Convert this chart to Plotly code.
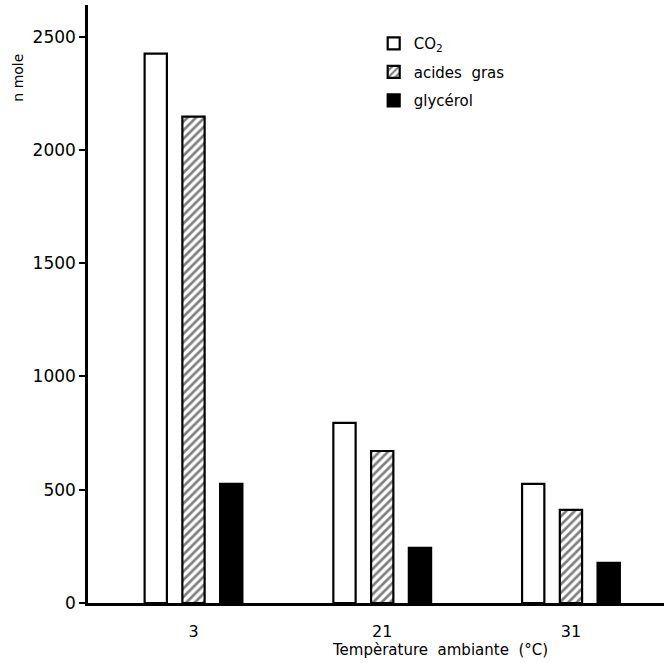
import plotly.graph_objects as go

temperatures = ["3", "21", "31"]
co2 = [2425, 795, 526]
acides_gras = [2147, 671, 411]
glycerol = [526, 243, 177]

FONT = "DejaVu Sans"

fig = go.Figure()
fig.add_trace(go.Bar(
    x=temperatures, y=co2, name="CO<sub>2</sub>", legendgroup="a",
    marker=dict(color="white", line=dict(color="black", width=2.2)),
))
fig.add_trace(go.Bar(
    x=temperatures, y=acides_gras, name="acides  gras", legendgroup="b",
    marker=dict(color="white", line=dict(color="black", width=2.2),
                pattern=dict(shape="/", fgcolor="black", bgcolor="white",
                             size=6, solidity=0.45)),
))
fig.add_trace(go.Bar(
    x=temperatures, y=glycerol, name="glycérol", legendgroup="c",
    marker=dict(color="black", line=dict(color="black", width=2.2)),
))

fig.update_layout(
    width=664, height=663,
    margin=dict(l=88, r=0, t=5, b=60),
    paper_bgcolor="white", plot_bgcolor="white",
    barmode="group", bargap=0.4, bargroupgap=0.41,
    font=dict(family=FONT, size=16, color="black"),
    showlegend=True,
    legend=dict(x=0.496, y=0.963, xanchor="left", yanchor="top",
                bgcolor="rgba(0,0,0,0)", font=dict(size=15, family=FONT),
                tracegroupgap=6, itemwidth=30),
    xaxis=dict(
        type="category", range=[-0.559, 2.493],
        showline=True, linecolor="black", linewidth=2.5,
        ticks="", showgrid=False, zeroline=False,
        tickfont=dict(size=16, family=FONT),
        ticklabelstandoff=12,
    ),
    yaxis=dict(
        range=[0, 2640], tickvals=[0, 500, 1000, 1500, 2000, 2500],
        showline=True, linecolor="black", linewidth=2.5,
        ticks="outside", ticklen=6, tickwidth=2, tickcolor="black",
        showgrid=False, zeroline=False,
        tickfont=dict(size=17, family=FONT),
    ),
    annotations=[
        dict(text="n mole", xref="paper", yref="paper", x=-0.122, y=0.878,
             textangle=-90, showarrow=False, font=dict(size=14, family=FONT),
             xanchor="center", yanchor="middle"),
        dict(text="Tempèrature  ambiante  (°C)", xref="paper", yref="paper",
             x=0.611, y=-0.079, showarrow=False,
             font=dict(size=15, family=FONT),
             xanchor="center", yanchor="middle"),
    ],
)

fig.write_html("out.html",
               config={"displayModeBar": False},
               post_script="document.body.style.margin='0';document.body.style.overflow='hidden';")
